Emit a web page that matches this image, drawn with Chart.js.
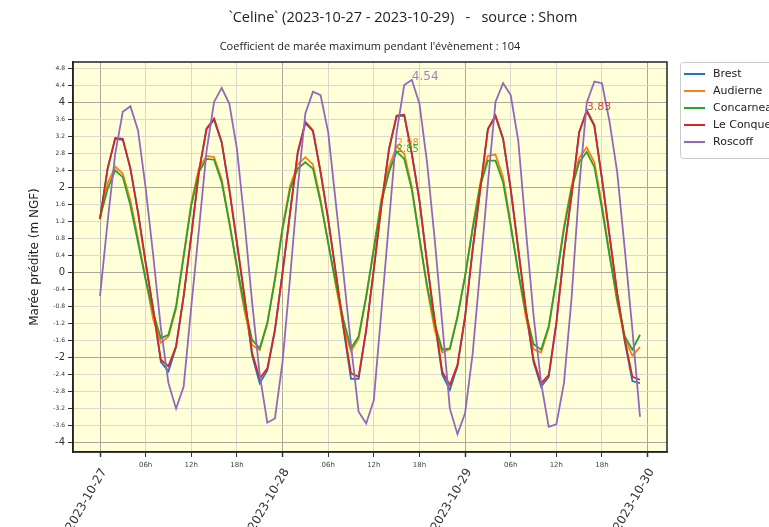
<!DOCTYPE html>
<html lang="fr">
<head>
<meta charset="utf-8">
<title>Marée prédite - Celine</title>
<script src="https://cdn.jsdelivr.net/npm/chart.js@4.4.0/dist/chart.umd.min.js"></script>
<style>
  body { margin: 0; background: #fff; overflow: hidden; }
  canvas { display: block; }
</style>
</head>
<body>
<canvas id="graficoMaree" width="769" height="527"></canvas>
<script>
// heures écoulées depuis le 2023-10-27 00:00 (une mesure par heure)
const heures = Array.from({ length: 72 }, (_, i) => i);

// hauteurs prédites (m NGF)
const brest = [
  1.26, 2.45, 3.15, 3.13, 2.45, 1.42, 0.24, -0.87, -2.1, -2.32, -1.75, -0.55,
  0.87, 2.37, 3.37, 3.6, 3.06, 1.97, 0.71, -0.6, -1.95, -2.6, -2.3, -1.36,
  0.0, 1.42, 2.82, 3.52, 3.33, 2.37, 1.26, 0.0, -1.3, -2.5, -2.5, -1.36,
  0.08, 1.58, 2.9, 3.68, 3.7, 2.8, 1.7, 0.24, -1.15, -2.4, -2.76, -2.2,
  -1.05, 0.55, 1.97, 3.37, 3.68, 3.14, 1.97, 0.55, -0.9, -2.1, -2.68, -2.45,
  -1.2, 0.47, 1.82, 3.3, 3.8, 3.45, 2.21, 0.87, -0.5, -1.62, -2.55, -2.6
];
const audierne = [
  1.3, 2.1, 2.5, 2.33, 1.7, 0.8, -0.15, -1.1, -1.65, -1.5, -0.85, 0.4,
  1.65, 2.45, 2.75, 2.72, 2.2, 1.2, 0.1, -0.9, -1.7, -1.82, -1.2, -0.15,
  1.08, 2.05, 2.55, 2.72, 2.55, 1.72, 0.7, -0.3, -1.25, -1.85, -1.55, -0.58,
  0.58, 1.75, 2.48, 2.98, 2.8, 2.02, 0.82, -0.35, -1.35, -1.88, -1.8, -1.05,
  -0.08, 1.08, 2.12, 2.75, 2.78, 2.25, 1.15, 0.0, -1.05, -1.8, -1.88, -1.3,
  -0.15, 1.08, 2.05, 2.7, 2.95, 2.6, 1.6, 0.45, -0.7, -1.55, -1.95, -1.75
];
const concarneau = [
  1.3, 1.97, 2.41, 2.25, 1.58, 0.71, -0.16, -0.95, -1.54, -1.46, -0.79, 0.39,
  1.58, 2.37, 2.68, 2.66, 2.13, 1.18, 0.16, -0.79, -1.58, -1.78, -1.18, -0.16,
  1.03, 1.97, 2.45, 2.6, 2.45, 1.66, 0.71, -0.24, -1.1, -1.78, -1.5, -0.55,
  0.55, 1.66, 2.37, 2.85, 2.68, 1.95, 0.8, -0.3, -1.2, -1.81, -1.78, -1.03,
  -0.08, 1.03, 2.05, 2.64, 2.64, 2.13, 1.1, 0.0, -0.95, -1.68, -1.81, -1.26,
  -0.16, 1.03, 1.97, 2.6, 2.84, 2.49, 1.5, 0.39, -0.63, -1.5, -1.81, -1.46
];
const leConquet = [
  1.26, 2.45, 3.17, 3.15, 2.45, 1.42, 0.24, -0.87, -2.05, -2.2, -1.73, -0.55,
  0.87, 2.37, 3.39, 3.63, 3.08, 1.97, 0.71, -0.55, -1.89, -2.49, -2.25, -1.34,
  0.0, 1.42, 2.84, 3.55, 3.35, 2.37, 1.26, 0.0, -1.26, -2.37, -2.45, -1.34,
  0.08, 1.58, 2.92, 3.7, 3.72, 2.8, 1.7, 0.24, -1.1, -2.33, -2.64, -2.17,
  -1.03, 0.55, 1.97, 3.39, 3.7, 3.16, 1.97, 0.55, -0.87, -2.05, -2.6, -2.41,
  -1.18, 0.47, 1.82, 3.31, 3.83, 3.47, 2.21, 0.87, -0.47, -1.58, -2.45, -2.52
];
const roscoff = [
  -0.55, 1.2, 2.8, 3.79, 3.92, 3.35, 2.0, 0.4, -1.3, -2.6, -3.2, -2.68,
  -0.8, 1.0, 2.85, 4.02, 4.35, 3.98, 2.92, 1.2, -0.7, -2.4, -3.53, -3.43,
  -2.1, -0.1, 2.0, 3.75, 4.26, 4.18, 3.31, 1.65, 0.0, -1.7, -3.27, -3.55,
  -3.0, -0.9, 1.2, 3.3, 4.42, 4.54, 3.98, 2.6, 0.8, -1.2, -3.2, -3.8,
  -3.31, -1.9, 0.1, 2.1, 4.02, 4.46, 4.18, 3.1, 1.0, -1.0, -2.6, -3.63,
  -3.57, -2.6, -0.6, 2.0, 4.0, 4.5, 4.46, 3.55, 2.37, 0.55, -1.34, -3.39
];

const stations = ['Brest', 'Audierne', 'Concarneau', 'Le Conquet', 'Roscoff'];
const series = [brest, audierne, concarneau, leConquet, roscoff];
const couleurs = ['#1f77b4', '#ff7f0e', '#2ca02c', '#d62728', '#9467bd'];

// graduations des axes
const graduationsX = [0, 6, 12, 18, 24, 30, 36, 42, 48, 54, 60, 66, 72];
const etiquettesX = ['2023-10-27', '06h', '12h', '18h', '2023-10-28', '06h', '12h', '18h',
  '2023-10-29', '06h', '12h', '18h', '2023-10-30'];
const graduationsY = [-4, -3.6, -3.2, -2.8, -2.4, -2, -1.6, -1.2, -0.8, -0.4, 0, 0.4, 0.8,
  1.2, 1.6, 2, 2.4, 2.8, 3.2, 3.6, 4, 4.4, 4.8];

// pics annotés : indice de la station et heure
const pics = [
  { serie: 4, heure: 41, taille: 12 },
  { serie: 3, heure: 64, taille: 11 },
  { serie: 1, heure: 39, taille: 10 },
  { serie: 2, heure: 39, taille: 10 }
];

const titre = '`Celine` (2023-10-27 - 2023-10-29)   -   source : Shom';
const sousTitre = "Coefficient de marée maximum pendant l'évènement : 104";

function estMajeur(v) {
  return Math.abs(v % 2) < 1e-9;
}

// fond jaune, cadre, titres, heures, légende et étiquettes des pics
const decorMaree = {
  id: 'decorMaree',
  beforeDraw(chart) {
    const { ctx, chartArea: a } = chart;
    ctx.save();
    ctx.fillStyle = '#ffffff';
    ctx.fillRect(0, 0, chart.width, chart.height);
    ctx.fillStyle = '#ffffd8';
    ctx.fillRect(a.left, a.top, a.right - a.left, a.bottom - a.top);
    ctx.restore();
  },
  afterDatasetsDraw(chart) {
    const ctx = chart.ctx;
    const x = chart.scales.x;
    const y = chart.scales.y;
    ctx.save();
    ctx.textAlign = 'left';
    ctx.textBaseline = 'alphabetic';
    for (const p of pics) {
      const v = series[p.serie][p.heure];
      ctx.font = p.taille + 'px "DejaVu Sans"';
      ctx.fillStyle = couleurs[p.serie];
      ctx.globalAlpha = 0.85;
      ctx.fillText(v.toFixed(2), x.getPixelForValue(heures[p.heure]), y.getPixelForValue(v));
    }
    ctx.restore();
  },
  afterDraw(chart) {
    const { ctx, chartArea: a } = chart;
    const x = chart.scales.x;
    ctx.save();

    // cadre du graphique
    ctx.strokeStyle = '#222';
    ctx.lineWidth = 1.5;
    ctx.strokeRect(a.left, a.top, a.right - a.left, a.bottom - a.top);

    // titres
    ctx.fillStyle = '#222';
    ctx.textAlign = 'center';
    ctx.textBaseline = 'middle';
    ctx.font = '14.5px "Open Sans"';
    ctx.fillText(titre, 403, 18);
    ctx.font = '11px "Open Sans"';
    ctx.fillText(sousTitre, (a.left + a.right) / 2, 47);

    // heures intermédiaires sous l'axe
    ctx.font = '7px "DejaVu Sans"';
    ctx.fillStyle = '#444';
    graduationsX.forEach((h, i) => {
      if (etiquettesX[i].length <= 3) {
        ctx.fillText(etiquettesX[i], x.getPixelForValue(h), a.bottom + 13);
      }
    });

    // légende
    const lx = a.right + 13, ly = a.top, lh = 96;
    ctx.fillStyle = 'rgba(255,255,255,0.9)';
    ctx.strokeStyle = '#cccccc';
    ctx.lineWidth = 1;
    ctx.beginPath();
    ctx.roundRect(lx + 0.5, ly + 0.5, 120, lh, 3);
    ctx.fill();
    ctx.stroke();
    ctx.font = '11px "DejaVu Sans"';
    ctx.textAlign = 'left';
    stations.forEach((nom, i) => {
      const yy = ly + 12 + i * 17;
      ctx.strokeStyle = couleurs[i];
      ctx.lineWidth = 2;
      ctx.beginPath();
      ctx.moveTo(lx + 4, yy);
      ctx.lineTo(lx + 25, yy);
      ctx.stroke();
      ctx.fillStyle = '#222';
      ctx.fillText(nom, lx + 33, yy);
    });
    ctx.restore();
  }
};

const ctx = document.getElementById('graficoMaree').getContext('2d');

const chart = new Chart(ctx, {
  type: 'line',
  data: {
    labels: heures,
    datasets: stations.map((nom, i) => ({
      label: nom,
      data: series[i],
      borderColor: couleurs[i],
      backgroundColor: couleurs[i],
      borderWidth: 1.8,
      pointRadius: 0,
      tension: 0,
      fill: false,
      order: stations.length - i // la dernière station dessinée au-dessus
    }))
  },
  options: {
    responsive: false,
    animation: false,
    layout: { padding: { top: 62, right: 102, left: 0, bottom: 0 } },
    plugins: {
      legend: { display: false },
      title: { display: false },
      tooltip: { enabled: false }
    },
    scales: {
      x: {
        type: 'linear',
        min: -3.55,
        max: 74.55,
        afterBuildTicks(scale) {
          scale.ticks = graduationsX.map(v => ({ value: v }));
        },
        afterFit(scale) {
          scale.height = 75;
        },
        ticks: {
          autoSkip: false,
          minRotation: 60,
          maxRotation: 60,
          padding: 9,
          labelOffset: 4,
          color: '#333',
          font: { family: 'DejaVu Sans', size: 12 },
          callback: (v, i) => (etiquettesX[i] && etiquettesX[i].length > 3 ? etiquettesX[i] : '')
        },
        grid: {
          color: c => (c.tick && c.tick.value % 24 === 0 ? '#a9a99c' : '#d9d9cf'),
          tickColor: '#333',
          tickWidth: c => (c.tick && c.tick.value % 24 === 0 ? 1.5 : 1),
          tickLength: 5
        },
        border: { color: '#222', width: 1.5 }
      },
      y: {
        min: -4.22,
        max: 4.96,
        afterBuildTicks(scale) {
          scale.ticks = graduationsY.map(v => ({ value: v }));
        },
        afterFit(scale) {
          scale.width = 73;
        },
        ticks: {
          autoSkip: false,
          padding: 3,
          color: '#333',
          font: c => ({ family: 'DejaVu Sans', size: c.tick && !estMajeur(c.tick.value) ? 6 : 10 }),
          callback: v => (Number.isInteger(v) ? String(v) : v.toFixed(1))
        },
        grid: {
          color: c => (c.tick && estMajeur(c.tick.value) ? '#a9a99c' : '#d9d9cf'),
          tickColor: '#333',
          tickLength: 5
        },
        border: { color: '#222', width: 1.5 },
        title: {
          display: true,
          text: 'Marée prédite (m NGF)',
          color: '#222',
          font: { family: 'DejaVu Sans', size: 12 },
          padding: { top: 28, bottom: 4 }
        }
      }
    }
  },
  plugins: [decorMaree]
});
</script>
</body>
</html>
